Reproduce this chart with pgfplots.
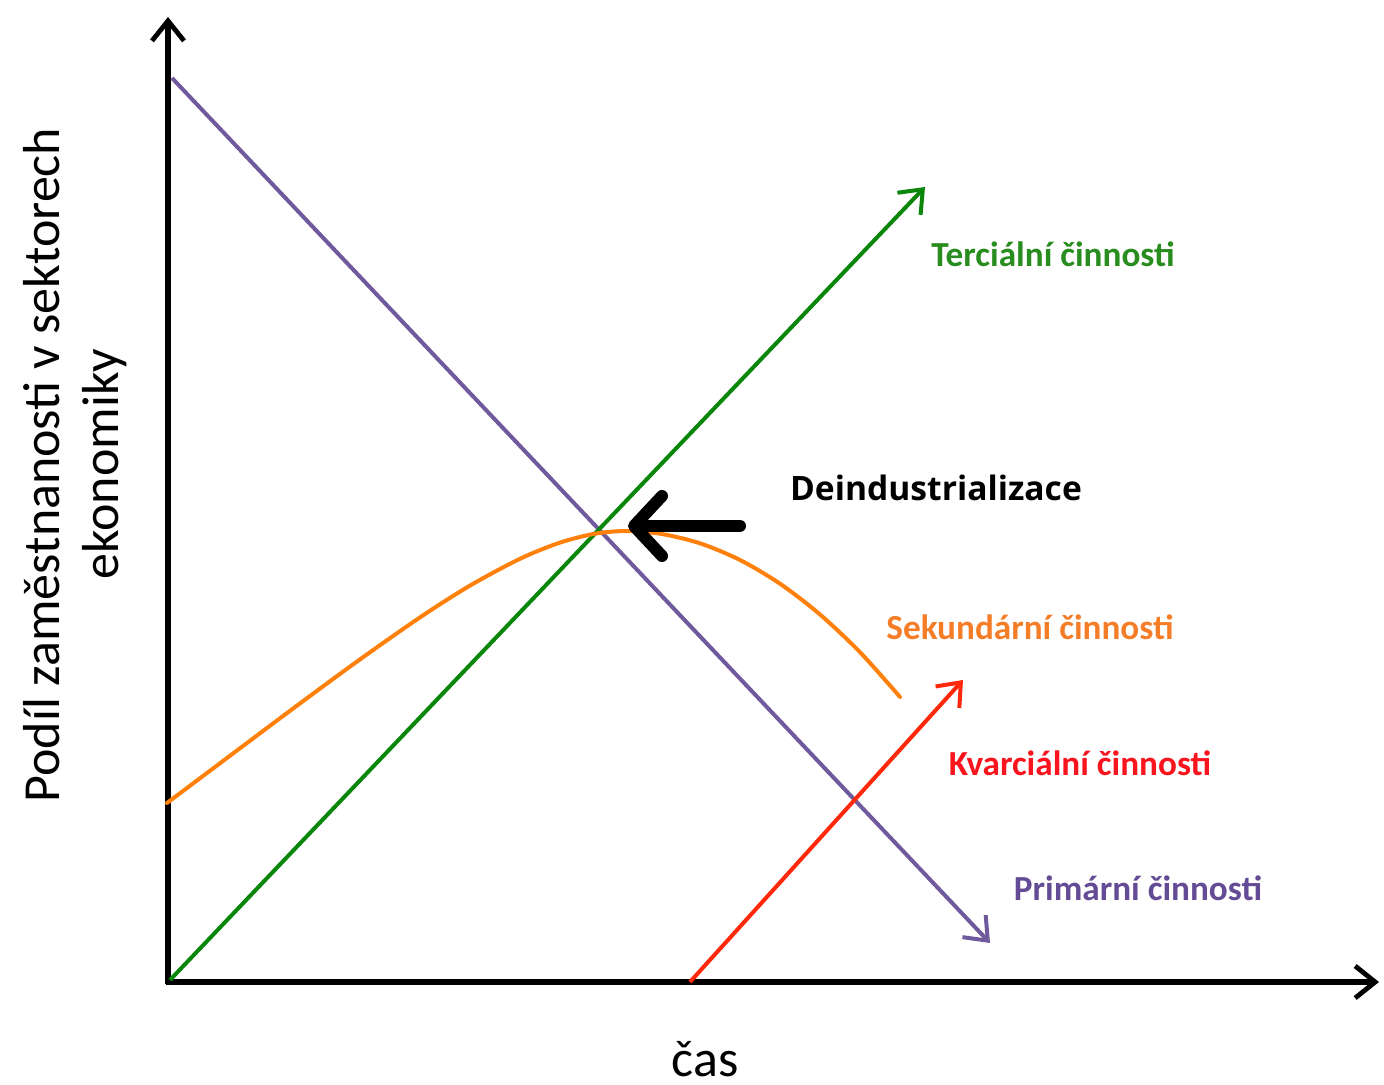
\documentclass[border=0pt]{standalone}
\usepackage{fontspec}
\setmainfont{Carlito}
\newfontfamily\segoe{Open Sans}
\usepackage{pgfplots}
\pgfplotsset{compat=1.18}
\usetikzlibrary{arrows.meta}
\definecolor{cpurple}{RGB}{112,90,158}
\definecolor{cgreen}{RGB}{10,135,10}
\definecolor{corange}{RGB}{255,128,10}
\definecolor{cred}{RGB}{255,40,10}
\definecolor{tgreen}{RGB}{40,140,30}
\definecolor{torange}{RGB}{245,125,40}
\definecolor{tred}{RGB}{250,20,30}
\definecolor{tpurple}{RGB}{100,75,150}
\begin{document}
\begin{tikzpicture}
\begin{axis}[
  scale only axis, width=346pt, height=271pt,
  xmin=0, xmax=1384, ymin=0, ymax=1084,
  axis lines=none, clip=false,
]
% axes
\addplot[black, line width=1.3pt, -{Straight Barb[length=5pt,width=8pt,line width=1.2pt]}] coordinates {(168,100) (168,1067)};
\addplot[black, line width=1.3pt, -{Straight Barb[length=5pt,width=8pt,line width=1.2pt]}] coordinates {(166,102) (1379,102)};
% primary
\addplot[cpurple, line width=1pt, -{Straight Barb[length=5pt,width=8pt,line width=1pt]}] coordinates {(172,1006) (990,141)};
% tertiary
\addplot[cgreen, line width=1pt, -{Straight Barb[length=5pt,width=8pt,line width=1pt]}] coordinates {(170,104) (925,897)};
% quaternary
\addplot[cred, line width=1pt, -{Straight Barb[length=5pt,width=8pt,line width=1pt]}] coordinates {(690,102) (963,404)};
% secondary
\addplot[corange, line width=1pt, smooth, line cap=round] coordinates {(167,281) (230,328.3) (300,380.6) (360,424.6) (420,466.6) (470,498.4) (520,525.2) (560,541.4) (595,550.3) (625,552.9) (660,550.3) (700,540.7) (740,524) (780,500.3) (820,469.5) (860,431.8) (900,387)};
% deindustrialization arrow
\addplot[black, line width=3pt, line cap=round, -{Straight Barb[length=7pt,width=15pt,line width=3pt,round]}] coordinates {(740,558) (628,558)};
\node[text=tgreen, font=\fontsize{8.8}{10}\selectfont\bfseries] at (axis cs:1053,830) {Terciální činnosti};
\node[text=black, font=\fontsize{8.4}{10}\selectfont\segoe\bfseries] at (axis cs:936,596) {Deindustrializace};
\node[text=torange, font=\fontsize{8.8}{10}\selectfont\bfseries] at (axis cs:1030,457) {Sekundární činnosti};
\node[text=tred, font=\fontsize{8.8}{10}\selectfont\bfseries] at (axis cs:1080,321) {Kvarciální činnosti};
\node[text=tpurple, font=\fontsize{8.8}{10}\selectfont\bfseries] at (axis cs:1138,196) {Primární činnosti};
\node[font=\fontsize{13}{15}\selectfont] at (axis cs:705,25) {čas};
\node[rotate=90, font=\fontsize{13}{15}\selectfont] at (axis cs:42,619) {Podíl zaměstnanosti v sektorech};
\node[rotate=90, font=\fontsize{13}{15}\selectfont] at (axis cs:105,620) {ekonomiky};
\end{axis}
\pgfresetboundingbox
\path[use as bounding box] (0,0) rectangle (346pt,271pt);
\end{tikzpicture}
\end{document}
